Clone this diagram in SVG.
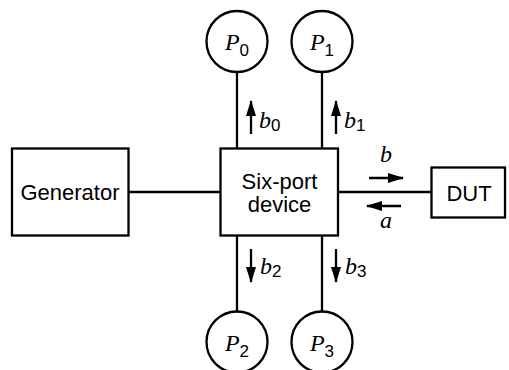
<svg xmlns="http://www.w3.org/2000/svg" width="509" height="370" viewBox="0 0 509 370">
<style>
.box{fill:#fff;stroke:#000;stroke-width:2.3}
.ln{fill:none;stroke:#000;stroke-width:2.3}
.ar{fill:none;stroke:#000;stroke-width:2.3}
.lbl{font-family:"Liberation Sans",Arial,sans-serif;font-size:22px;fill:#000}
.it{font-family:"Liberation Serif","Times New Roman",serif;font-style:italic;font-size:24px;fill:#000}
.sub{font-family:"Liberation Sans",Arial,sans-serif;font-style:normal;font-size:17px}
</style>
<defs>
<marker id="ah" markerUnits="userSpaceOnUse" markerWidth="16" markerHeight="10" refX="15" refY="5" orient="auto">
<path d="M0,0 L16,5 L0,10 z" fill="#000"/>
</marker>
</defs>
<g id="connectors">
<line class="ln" x1="128.5" y1="192" x2="220.5" y2="192"/>
<line class="ln" x1="338" y1="192" x2="431.5" y2="192"/>
<line class="ln" x1="237" y1="72" x2="237" y2="148.5"/>
<line class="ln" x1="322" y1="72" x2="322" y2="148.5"/>
<line class="ln" x1="237" y1="235.5" x2="237" y2="311.5"/>
<line class="ln" x1="322" y1="235.5" x2="322" y2="311.5"/>
<line class="ar" x1="251" y1="134" x2="251" y2="101" marker-end="url(#ah)"/>
<line class="ar" x1="336" y1="134" x2="336" y2="101" marker-end="url(#ah)"/>
<line class="ar" x1="251" y1="249" x2="251" y2="282" marker-end="url(#ah)"/>
<line class="ar" x1="336" y1="249" x2="336" y2="282" marker-end="url(#ah)"/>
<line class="ar" x1="369" y1="178" x2="403" y2="178" marker-end="url(#ah)"/>
<line class="ar" x1="401" y1="206" x2="367" y2="206" marker-end="url(#ah)"/>
<text class="it" x="259" y="128">b<tspan class="sub" dy="3">0</tspan></text>
<text class="it" x="344" y="128">b<tspan class="sub" dy="3">1</tspan></text>
<text class="it" x="260" y="274">b<tspan class="sub" dy="3">2</tspan></text>
<text class="it" x="345" y="274">b<tspan class="sub" dy="3">3</tspan></text>
<text class="it" x="386" y="162" text-anchor="middle">b</text>
<text class="it" x="386" y="228" text-anchor="middle">a</text>
</g>
<g id="generator">
<rect class="box" x="12" y="148.5" width="116.5" height="87"/>
<text class="lbl" x="70" y="199.5" text-anchor="middle">Generator</text>
</g>
<g id="sixport">
<rect class="box" x="220.5" y="148.5" width="117.5" height="87"/>
<text class="lbl" x="279.5" y="188.5" text-anchor="middle">Six-port</text>
<text class="lbl" x="279.5" y="212" text-anchor="middle">device</text>
</g>
<g id="dut">
<rect class="box" x="431.5" y="167.5" width="73.5" height="50"/>
<text class="lbl" x="469" y="201" text-anchor="middle">DUT</text>
</g>
<g id="p0">
<circle class="box" cx="237" cy="41.5" r="30.5"/>
<text class="it" x="237" y="50" text-anchor="middle">P<tspan class="sub" dy="6">0</tspan></text>
</g>
<g id="p1">
<circle class="box" cx="322" cy="41.5" r="30.5"/>
<text class="it" x="322" y="50" text-anchor="middle">P<tspan class="sub" dy="6">1</tspan></text>
</g>
<g id="p2">
<circle class="box" cx="237" cy="342" r="30.5"/>
<text class="it" x="237" y="350.5" text-anchor="middle">P<tspan class="sub" dy="6">2</tspan></text>
</g>
<g id="p3">
<circle class="box" cx="322" cy="342" r="30.5"/>
<text class="it" x="322" y="350.5" text-anchor="middle">P<tspan class="sub" dy="6">3</tspan></text>
</g>
</svg>
